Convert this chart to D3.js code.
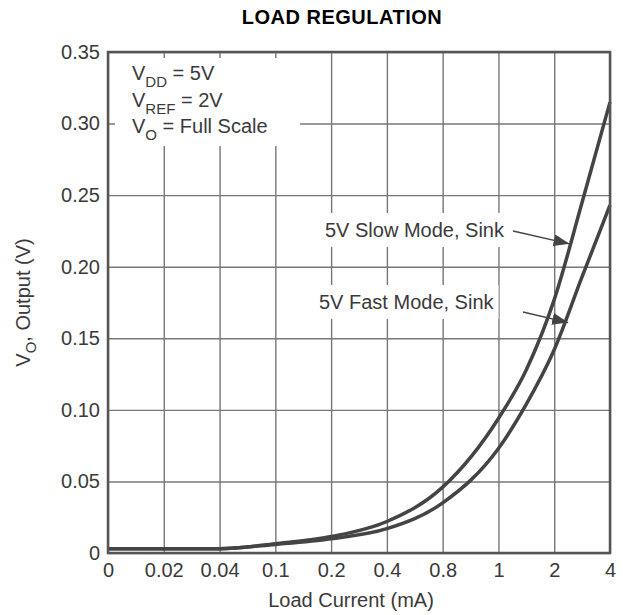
<!DOCTYPE html>
<html>
<head>
<meta charset="utf-8">
<script src="https://cdn.jsdelivr.net/npm/d3@7"></script>
<style>
    body { margin: 0; background: #fff; }
    text { font-family: "Liberation Sans", Arial, Helvetica, sans-serif; fill: #3a3a3a; }
    .tickLabel { font-size: 20px; }
    .title { font-size: 20px; font-weight: bold; fill: #000; letter-spacing: 0.5px; }
    .grid line { stroke: #777; stroke-width: 1.4; }
    .curve { fill: none; stroke: #444; stroke-width: 3.5; }
</style>
</head>
<body>
<div id="chart"></div>
<script>
// Datos (corriente de carga en mA, salida en V)
const xTicks = [0, 0.02, 0.04, 0.1, 0.2, 0.4, 0.8, 1, 2, 4]
const yTicks = [0, 0.05, 0.10, 0.15, 0.20, 0.25, 0.30, 0.35]
const currents = [0, 0.02, 0.04, 0.1, 0.2, 0.4, 0.8, 1, 1.5, 2, 3, 4]
const slowSink = [0.003, 0.003, 0.003, 0.0065, 0.0115, 0.022, 0.046, 0.094, 0.128, 0.177, 0.245, 0.315]
const fastSink = [0.003, 0.003, 0.003, 0.006, 0.010, 0.017, 0.035, 0.073, 0.104, 0.142, 0.193, 0.243]

// ----------------------------------------------------------

const width = 623
const height = 615
const margin = { top: 52, bottom: 62, left: 108, right: 13 }
const innerW = width - margin.left - margin.right
const innerH = height - margin.top - margin.bottom

const svg = d3.select("div#chart").append("svg")
    .attr("width", width)
    .attr("height", height)

const elementGroup = svg.append("g").attr("transform", `translate(${margin.left} ${margin.top})`)

// Eje x: los ticks están equiespaciados aunque no lo estén sus valores -> escala lineal a trozos
const scaleX = d3.scaleLinear()
    .domain(xTicks)
    .range(xTicks.map((d, i) => i * innerW / (xTicks.length - 1)))
const scaleY = d3.scaleLinear().domain([0, 0.35]).range([innerH, 0])

const xAxis = d3.axisBottom(scaleX).tickValues(xTicks)
    .tickFormat(d => String(d)).tickSize(-innerH).tickPadding(10)
const yAxis = d3.axisLeft(scaleY).tickValues(yTicks)
    .tickFormat(d => d === 0 ? "0" : d3.format(".2f")(d)).tickSize(-innerW).tickPadding(8)

const xAxisGroup = elementGroup.append("g").attr("class", "grid")
    .attr("transform", `translate(0 ${innerH})`).call(xAxis)
const yAxisGroup = elementGroup.append("g").attr("class", "grid").call(yAxis)

for (const g of [xAxisGroup, yAxisGroup]) {
    g.select(".domain").remove()
    g.selectAll("text").attr("class", "tickLabel").attr("fill", null)
}

// Caja blanca que tapa la rejilla detrás de las condiciones
elementGroup.append("rect")
    .attr("x", 7).attr("y", 6).attr("width", 185).attr("height", 88)
    .attr("fill", "#fff")

const labels = [
    { text: "5V Slow Mode, Sink", x: 217, y: 185, tip: [2.55, 0.216], from: [405, 179] },
    { text: "5V Fast Mode, Sink", x: 211, y: 257, tip: [2.5, 0.161], from: [415, 260] }
]
const labelGroup = elementGroup.selectAll("g.lbl").data(labels).enter().append("g").attr("class", "lbl")
labelGroup.append("rect").attr("fill", "#fff")
labelGroup.append("text").attr("class", "tickLabel")
    .attr("x", d => d.x).attr("y", d => d.y).text(d => d.text)
labelGroup.each(function() {
    const bb = d3.select(this).select("text").node().getBBox()
    d3.select(this).select("rect")
        .attr("x", bb.x - 4).attr("y", bb.y - 6)
        .attr("width", bb.width + 8).attr("height", bb.height + 12)
})

// Curvas
const series = [slowSink, fastSink]
const line = d3.line()
    .x((d, i) => scaleX(currents[i]))
    .y(d => scaleY(d))
    .curve(d3.curveMonotoneX)
elementGroup.selectAll("path.curve").data(series).enter().append("path")
    .attr("class", "curve")
    .attr("d", line)

// Flechas
svg.append("defs").append("marker")
    .attr("id", "arrow").attr("viewBox", "0 0 16 12")
    .attr("refX", 16).attr("refY", 6)
    .attr("markerWidth", 16).attr("markerHeight", 12)
    .attr("markerUnits", "userSpaceOnUse").attr("orient", "auto")
    .append("path").attr("d", "M0,0 L16,6 L0,12 Z").attr("fill", "#444")

labelGroup.append("line")
    .attr("x1", d => d.from[0]).attr("y1", d => d.from[1])
    .attr("x2", d => scaleX(d.tip[0])).attr("y2", d => scaleY(d.tip[1]))
    .attr("stroke", "#444").attr("stroke-width", 1.3)
    .attr("marker-end", "url(#arrow)")

// Marco
elementGroup.append("rect")
    .attr("width", innerW).attr("height", innerH)
    .attr("fill", "none").attr("stroke", "#555").attr("stroke-width", 2.5)

// Condiciones
const condLines = [["DD", " = 5V"], ["REF", " = 2V"], ["O", " = Full Scale"]]
condLines.forEach((c, i) => {
    const t = elementGroup.append("text").attr("class", "tickLabel")
        .attr("x", 24).attr("y", 28 + i * 26.5)
    t.append("tspan").text("V")
    t.append("tspan").text(c[0]).attr("font-size", "15px").attr("dy", 7)
    t.append("tspan").text(c[1]).attr("dy", -7)
})

// Título y etiquetas de ejes
svg.append("text").attr("class", "title")
    .attr("x", 342).attr("y", 24).attr("text-anchor", "middle")
    .text("LOAD REGULATION")

svg.append("text").attr("class", "tickLabel")
    .attr("x", margin.left + innerW / 2 - 8).attr("y", 607).attr("text-anchor", "middle")
    .text("Load Current (mA)")

const yLabel = svg.append("text").attr("class", "tickLabel")
    .attr("transform", `translate(30 ${margin.top + innerH / 2}) rotate(-90)`)
    .attr("text-anchor", "middle")
yLabel.append("tspan").text("V")
yLabel.append("tspan").text("O").attr("font-size", "15px").attr("dy", 6)
yLabel.append("tspan").text(", Output (V)").attr("dy", -6)
</script>
</body>
</html>
